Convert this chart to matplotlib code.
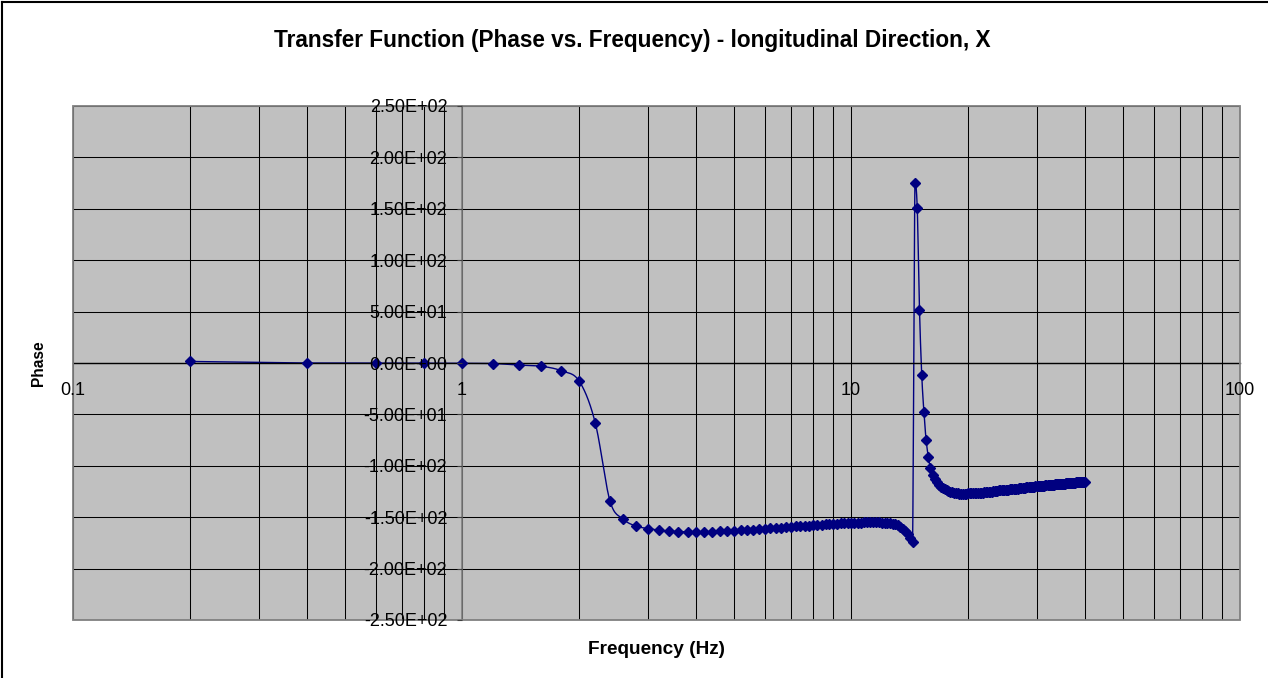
import numpy as np
import matplotlib
matplotlib.use("Agg")
import matplotlib.pyplot as plt
from matplotlib.patches import Rectangle
from matplotlib.lines import Line2D
from matplotlib.ticker import FixedLocator, FuncFormatter, NullFormatter, NullLocator

plt.rcParams['font.family'] = ['Liberation Sans', 'DejaVu Sans']

# Measurement grid: 0.2 Hz steps from 0.2 Hz to 40 Hz
freq_step_hz = 0.2
frequency_hz = np.round(np.arange(1, 201) * freq_step_hz, 1)

# Phase (degrees) at each frequency
phase_deg = [
    1.5, 0.0, 0.0, -0.2, -0.3, -0.5, -2.0, -3.2, -7.5, -17.5,
    -58.0, -134.0, -152.0, -158.6, -161.0, -162.5, -163.5, -164.0, -164.2, -164.2,
    -164.2, -164.0, -163.8, -163.5, -163.2, -162.9, -162.5, -162.1, -161.7, -161.3,
    -160.9, -160.5, -160.1, -159.7, -159.3, -159.0, -158.7, -158.4, -158.1, -157.8,
    -157.5, -157.2, -156.9, -156.7, -156.5, -156.3, -156.1, -155.9, -155.7, -155.5,
    -155.4, -155.3, -155.2, -155.1, -155.0, -155.0, -155.0, -155.0, -155.1, -155.2,
    -155.4, -155.7, -156.0, -156.5, -157.1, -158.0, -159.3, -161.2, -163.6, -166.3,
    -169.8, -174.5, 175.4, 151.0, 51.5, -11.7, -48.0, -75.0, -91.0, -102.5,
    -109.0, -113.0, -116.0, -118.5, -120.3, -121.8, -123.0, -124.0, -124.8, -125.4,
    -125.9, -126.3, -126.6, -126.8, -127.0,
    -127.0, -127.0, -127.0, -127.0, -126.9,
    -126.9, -126.8, -126.7, -126.6, -126.5, -126.4, -126.3, -126.1, -126.0, -125.8,
    -125.7, -125.5, -125.3, -125.1, -125.0, -124.8, -124.6, -124.4, -124.2, -124.0,
    -123.9, -123.8, -123.6, -123.5, -123.4, -123.3, -123.1, -123.0, -122.9, -122.8,
    -122.7, -122.5, -122.4, -122.2, -122.0, -121.9, -121.7, -121.6, -121.4, -121.3,
    -121.1, -121.0, -120.8, -120.7, -120.5, -120.4, -120.3, -120.2, -120.1, -120.0,
    -119.9, -119.8, -119.7, -119.5, -119.4, -119.3, -119.2, -119.0, -118.9, -118.8,
    -118.7, -118.6, -118.5, -118.4, -118.3, -118.2, -118.1, -118.0, -117.9, -117.8,
    -117.8, -117.7, -117.6, -117.5, -117.4, -117.3, -117.3, -117.2, -117.1, -117.0,
    -116.9, -116.9, -116.8, -116.7, -116.6, -116.5, -116.4, -116.3, -116.2, -116.1,
    -116.0, -115.9, -115.9, -115.8, -115.8, -115.7, -115.7, -115.6, -115.6, -115.5,
]

x_ticks = [0.1, 1, 10, 100]
x_tick_labels = ["0.1", "1", "10", "100"]
y_ticks = [250, 200, 150, 100, 50, 0, -50, -100, -150, -200, -250]

title_text = "Transfer Function (Phase vs. Frequency) - longitudinal Direction, X"
x_title = "Frequency (Hz)"
y_title = "Phase"

LINE_COLOR = "#000080"
PLOT_BG = "#C0C0C0"


def smooth_curve(x, y, n=16):
    """Bezier smoothing through the points (log-x space), control points
    kept inside each segment's value range so peaks are not overshot."""
    u = np.log10(np.asarray(x, float))
    v = np.asarray(y, float)
    pu = np.concatenate([[u[0]], u, [u[-1]]])
    pv = np.concatenate([[v[0]], v, [v[-1]]])
    tt = np.linspace(0, 1, n, endpoint=False)
    b0 = (1 - tt) ** 3
    b1 = 3 * (1 - tt) ** 2 * tt
    b2 = 3 * (1 - tt) * tt ** 2
    b3 = tt ** 3
    out_u, out_v = [], []
    for i in range(1, len(pu) - 2):
        p0u, p1u, p2u, p3u = pu[i - 1:i + 3]
        p0v, p1v, p2v, p3v = pv[i - 1:i + 3]
        lo, hi = min(p1v, p2v), max(p1v, p2v)
        c1u = p1u + (p2u - p0u) / 6
        c1v = np.clip(p1v + (p2v - p0v) / 6, lo, hi)
        c2u = p2u - (p3u - p1u) / 6
        c2v = np.clip(p2v - (p3v - p1v) / 6, lo, hi)
        out_u.append(b0 * p1u + b1 * c1u + b2 * c2u + b3 * p2u)
        out_v.append(b0 * p1v + b1 * c1v + b2 * c2v + b3 * p2v)
    out_u.append([u[-1]])
    out_v.append([v[-1]])
    return 10 ** np.concatenate(out_u), np.concatenate(out_v)


W, H = 1268, 678
fig = plt.figure(figsize=(W / 100, H / 100), dpi=100)
fig.patch.set_facecolor("white")

left, right, top, bottom = 73, 1240, 106, 620
ax = fig.add_axes([left / W, 1 - bottom / H, (right - left) / W, (bottom - top) / H])
ax.set_facecolor(PLOT_BG)
ax.set_xscale("log")
ax.set_xlim(0.1, 100)
ax.set_ylim(-250, 250)

# Grid lines
for dec in (0.1, 1, 10):
    for m in range(1, 10):
        ax.axvline(dec * m, color="black", lw=0.75, zorder=1)
ax.axvline(100, color="black", lw=0.75, zorder=1)
for yv in y_ticks:
    ax.axhline(yv, color="black", lw=0.75, zorder=1)

# Data: smoothed line plus diamond markers
sx, sy = smooth_curve(frequency_hz, phase_deg)
ax.plot(sx, sy, color=LINE_COLOR, lw=1.0, zorder=2.5)
ax.plot(frequency_hz, phase_deg, ls="none", marker="D", ms=4.6,
        color=LINE_COLOR, mec=LINE_COLOR, zorder=3)

# Axes crossing at x = 1 and y = 0
for s in ("top", "right"):
    ax.spines[s].set_visible(False)
ax.spines["left"].set_position(("data", 1))
ax.spines["left"].set_color("#808080")
ax.spines["left"].set_linewidth(1.2)
ax.spines["bottom"].set_position(("data", 0))
ax.spines["bottom"].set_color("black")
ax.spines["bottom"].set_linewidth(1.0)

ax.xaxis.set_major_locator(FixedLocator(x_ticks))
ax.xaxis.set_major_formatter(FuncFormatter(
    lambda v, p: x_tick_labels[x_ticks.index(v)] if v in x_ticks else ""))
ax.xaxis.set_minor_locator(NullLocator())
ax.xaxis.set_minor_formatter(NullFormatter())
ax.tick_params(axis="x", length=0, pad=14, labelsize=13)

ax.yaxis.set_major_locator(FixedLocator(y_ticks))
ax.yaxis.set_major_formatter(FuncFormatter(lambda v, p: f"{v:.2E}"))
ax.tick_params(axis="y", length=3.6, width=0.8, color="#404040",
               direction="out", pad=7, labelsize=13)

# Plot-area border
ax.add_patch(Rectangle((0, 0), 1, 1, transform=ax.transAxes, fill=False,
                       edgecolor="#808080", lw=1.3, zorder=3.5, clip_on=False))
ax.xaxis.set_zorder(4)
ax.yaxis.set_zorder(4)

# Titles
fig.text(632 / W, 1 - 40 / H, title_text, ha="center", va="center",
         fontsize=16.3, fontweight="bold")
fig.text(656 / W, 1 - 650 / H, x_title, ha="center", va="center",
         fontsize=13.7, fontweight="bold")
fig.text(38 / W, 1 - 363 / H, y_title, ha="center", va="center",
         rotation=90, fontsize=11.2, fontweight="bold")

# Chart frame (top and left edges)
fig.add_artist(Line2D([2 / W, 2 / W], [0, 1 - 2 / H], transform=fig.transFigure,
                      color="black", lw=1.5))
fig.add_artist(Line2D([2 / W, 1], [1 - 2 / H, 1 - 2 / H], transform=fig.transFigure,
                      color="black", lw=1.5))

fig.savefig("out.png", dpi=100)
